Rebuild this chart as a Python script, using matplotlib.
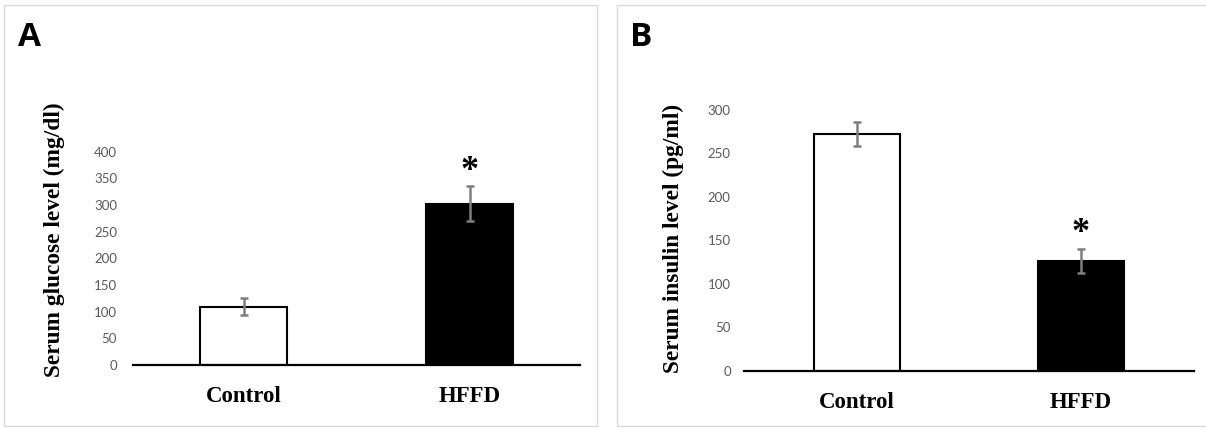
"""Serum glucose and insulin, Control vs HFFD (two-panel bar chart)."""

import matplotlib

matplotlib.use("Agg")
from matplotlib import pyplot as plt
from matplotlib.patches import Rectangle

groups = ["Control", "HFFD"]
glucose_mean = [109, 302]
glucose_err = [16, 33]
insulin_mean = [272, 126]
insulin_err = [14, 14]
glucose_ticks = [0, 50, 100, 150, 200, 250, 300, 350, 400]
insulin_ticks = [0, 50, 100, 150, 200, 250, 300]

W, H = 1206, 428
SERIF = "Liberation Serif"
TICK_FONT = "Lato"


def _px(x0, y0, x1, y1):
    # pixel box (top-left origin) -> figure fraction rect
    return [x0 / W, 1 - y1 / H, (x1 - x0) / W, (y1 - y0) / H]


def _panel(fig, rect, means, errs, ticks, ylabel, letter, letter_xy, ylabel_xy, pad):
    ax = fig.add_axes(rect)
    ax.bar(
        range(len(groups)),
        means,
        width=0.384,
        color=["white", "black"],
        edgecolor="black",
        linewidth=1.5,
        zorder=2,
    )
    ax.errorbar(
        range(len(groups)),
        means,
        yerr=errs,
        fmt="none",
        ecolor="#7f7f7f",
        elinewidth=1.8,
        capsize=3,
        capthick=1.8,
        zorder=3,
    )
    # significance star over the HFFD bar
    ax.annotate(
        "*",
        xy=(1, means[1] + errs[1]),
        xytext=(0, -1),
        textcoords="offset points",
        ha="center",
        va="bottom",
        fontsize=26,
        fontweight="bold",
        family=SERIF,
    )
    ax.set_ylim(ticks[0], ticks[-1])
    ax.set_yticks(ticks)
    ax.set_xticks(range(len(groups)))
    ax.set_xticklabels(groups, fontsize=16.5, fontweight="bold", family=SERIF)
    for lab in ax.get_yticklabels():
        lab.set_family(TICK_FONT)
        lab.set_fontsize(9.5)
        lab.set_color("#595959")
    ax.tick_params(axis="y", length=0, pad=pad)
    ax.tick_params(axis="x", length=0, pad=15)
    for side in ("left", "right", "top"):
        ax.spines[side].set_visible(False)
    ax.spines["bottom"].set_linewidth(1.6)
    ax.spines["bottom"].set_zorder(4)
    ax.patch.set_visible(False)
    fig.text(
        ylabel_xy[0] / W,
        1 - ylabel_xy[1] / H,
        ylabel,
        rotation=90,
        ha="center",
        va="center",
        fontsize=16.8,
        fontweight="bold",
        family=SERIF,
    )
    fig.text(
        letter_xy[0] / W,
        1 - letter_xy[1] / H,
        letter,
        ha="left",
        va="center",
        fontsize=24,
        family="Open Sans",
        fontweight="bold",
    )
    return ax


fig = plt.figure(figsize=(W / 100, H / 100), dpi=100)

# light grey panel frames
for x0, y0, x1, y1 in [(4, 5, 597, 426), (617, 5, 1210, 426)]:
    fig.patches.append(
        Rectangle(
            (x0 / W, 1 - y1 / H),
            (x1 - x0) / W,
            (y1 - y0) / H,
            transform=fig.transFigure,
            fill=False,
            edgecolor="#d9d9d9",
            linewidth=1.0,
        )
    )

ax_a = _panel(
    fig,
    _px(133, 151.5, 580, 365),
    glucose_mean,
    glucose_err,
    glucose_ticks,
    "Serum glucose level (mg/dl)",
    "A",
    (18, 38),
    (54, 240),
    11.5,
)
ax_a.set_xlim(-0.488, 1.486)

ax_b = _panel(
    fig,
    _px(744, 110, 1194, 370.7),
    insulin_mean,
    insulin_err,
    insulin_ticks,
    "Serum insulin level (pg/ml)",
    "B",
    (630, 38),
    (673, 238),
    9.5,
)
ax_b.set_xlim(-0.504, 1.505)

fig.savefig("out.png", dpi=100)
plt.close(fig)
